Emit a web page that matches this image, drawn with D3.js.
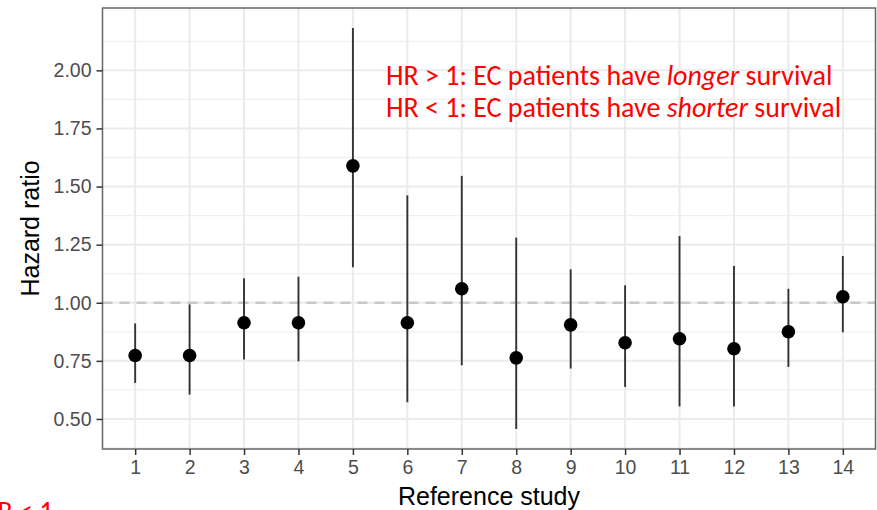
<!DOCTYPE html>
<html>
<head>
<meta charset="utf-8">
<script src="https://cdn.jsdelivr.net/npm/d3@7"></script>
<style>
  body { margin: 0; background: #fff; }
  svg { display: block; }
</style>
</head>
<body>
<div id="chart"></div>
<script>
// hazard ratio per reference study, with CI bounds
const studies = ["1", "2", "3", "4", "5", "6", "7", "8", "9", "10", "11", "12", "13", "14"];
const hazard = [0.773, 0.773, 0.914, 0.914, 1.589, 0.914, 1.060, 0.763, 0.905, 0.828, 0.845, 0.802, 0.875, 1.026];
const lower = [0.655, 0.605, 0.756, 0.748, 1.153, 0.572, 0.731, 0.457, 0.717, 0.638, 0.554, 0.554, 0.724, 0.873];
const upper = [0.911, 0.993, 1.105, 1.112, 2.182, 1.462, 1.546, 1.280, 1.144, 1.075, 1.287, 1.158, 1.060, 1.201];
const yTicks = [0.50, 0.75, 1.00, 1.25, 1.50, 1.75, 2.00];
const yMinor = [0.375, 0.625, 0.875, 1.125, 1.375, 1.625, 1.875, 2.125];
const refLine = 1;

const width = 877, height = 510;
const panel = { left: 102.5, right: 875.5, top: 8, bottom: 449 };

const data = studies.map((s, i) => ({ study: s, hr: hazard[i], lo: lower[i], hi: upper[i] }));

let svg = d3.select("#chart")
    .append("svg")
    .attr("width", width)
    .attr("height", height);

// ggplot-style expansion: 5% on y, 0.6 step on discrete x
let lo = d3.min(lower), hi = d3.max(upper);
let pad = (hi - lo) * 0.05;
let y = d3.scaleLinear()
    .domain([lo - pad, hi + pad])
    .range([panel.bottom, panel.top]);

let x = d3.scalePoint()
    .domain(studies)
    .range([panel.left, panel.right])
    .padding(0.6);

// grid
let grid = svg.append("g");
grid.selectAll(".minor")
    .data(yMinor.filter(v => y(v) <= panel.bottom && y(v) >= panel.top))
    .join("line")
    .attr("x1", panel.left).attr("x2", panel.right)
    .attr("y1", d => y(d)).attr("y2", d => y(d))
    .attr("stroke", "#f0f0f0")
    .attr("stroke-width", 1.3);
grid.selectAll(".major-y")
    .data(yTicks)
    .join("line")
    .attr("x1", panel.left).attr("x2", panel.right)
    .attr("y1", d => y(d)).attr("y2", d => y(d))
    .attr("stroke", "#ebebeb")
    .attr("stroke-width", 2);
grid.selectAll(".major-x")
    .data(studies)
    .join("line")
    .attr("x1", d => x(d)).attr("x2", d => x(d))
    .attr("y1", panel.top).attr("y2", panel.bottom)
    .attr("stroke", "#ebebeb")
    .attr("stroke-width", 2);

// reference line at HR = 1
svg.append("line")
    .attr("x1", panel.left).attr("x2", panel.right)
    .attr("y1", y(refLine)).attr("y2", y(refLine))
    .attr("stroke", "#c8c8c8")
    .attr("stroke-width", 2.5)
    .attr("stroke-dasharray", "10,7");

// confidence intervals
svg.append("g")
    .selectAll("line")
    .data(data)
    .join("line")
    .attr("x1", d => x(d.study)).attr("x2", d => x(d.study))
    .attr("y1", d => y(d.lo)).attr("y2", d => y(d.hi))
    .attr("stroke", "#333")
    .attr("stroke-width", 1.9);

// point estimates
svg.append("g")
    .selectAll("circle")
    .data(data)
    .join("circle")
    .attr("cx", d => x(d.study))
    .attr("cy", d => y(d.hr))
    .attr("r", 6.8)
    .attr("fill", "#000");

// panel border
svg.append("rect")
    .attr("x", panel.left).attr("y", panel.top)
    .attr("width", panel.right - panel.left)
    .attr("height", panel.bottom - panel.top)
    .attr("fill", "none")
    .attr("stroke", "#666")
    .attr("stroke-width", 1.5);

// axes
let yAxis = svg.append("g")
    .attr("transform", `translate(${panel.left}, 0)`)
    .call(d3.axisLeft(y).tickValues(yTicks).tickFormat(d3.format(".2f")).tickSize(6).tickPadding(5));
let xAxis = svg.append("g")
    .attr("transform", `translate(0, ${panel.bottom})`)
    .call(d3.axisBottom(x).tickSize(6).tickPadding(5));

[yAxis, xAxis].forEach(a => {
    a.select(".domain").remove();
    a.selectAll(".tick line").attr("stroke", "#333").attr("stroke-width", 1.5);
    a.selectAll(".tick text")
        .attr("fill", "#4d4d4d")
        .style("font-family", "'Liberation Sans', Arial, sans-serif")
        .style("font-size", "19.5px");
});

// axis titles
svg.append("text")
    .attr("x", (panel.left + panel.right) / 2)
    .attr("y", 505)
    .attr("text-anchor", "middle")
    .style("font-family", "'Liberation Sans', Arial, sans-serif")
    .style("font-size", "25px")
    .text("Reference study");

svg.append("text")
    .attr("transform", `translate(39, ${(panel.top + panel.bottom) / 2}) rotate(-90)`)
    .attr("text-anchor", "middle")
    .style("font-family", "'Liberation Sans', Arial, sans-serif")
    .style("font-size", "25px")
    .text("Hazard ratio");

// red annotation
let note = svg.append("text")
    .attr("fill", "#ff0000")
    .style("font-family", "Carlito, Calibri, Lato, sans-serif")
    .style("font-size", "28px");
let l1 = note.append("tspan").attr("x", 386).attr("y", 85);
l1.append("tspan").text("HR > 1: EC patients have ");
l1.append("tspan").style("font-style", "italic").text("longer");
l1.append("tspan").text(" survival");
let l2 = note.append("tspan").attr("x", 386).attr("y", 117);
l2.append("tspan").text("HR < 1: EC patients have ");
l2.append("tspan").style("font-style", "italic").text("shorter");
l2.append("tspan").text(" survival");

// clipped fragment of a second annotation at the bottom-left edge
svg.append("text")
    .attr("x", -20)
    .attr("y", 521)
    .attr("fill", "#ff0000")
    .style("font-family", "Carlito, Calibri, Lato, sans-serif")
    .style("font-size", "28px")
    .text("HR < 1");
</script>
</body>
</html>
